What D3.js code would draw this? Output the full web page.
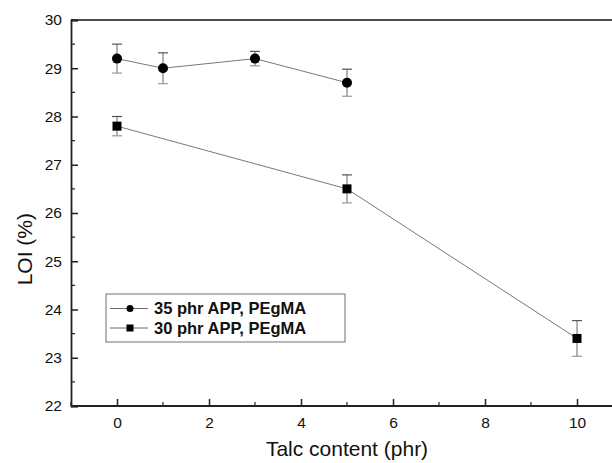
<!DOCTYPE html>
<html>
<head>
<meta charset="utf-8">
<script src="https://cdn.jsdelivr.net/npm/d3@7"></script>
<style>
  body { margin: 0; background: #fff; }
  svg { display: block; font-family: "Liberation Sans", Arial, sans-serif; }
</style>
</head>
<body>
<div id="container"></div>
<script>
/* DATA */
const talc35 = [0, 1, 3, 5];
const loi35 = [29.2, 29.0, 29.2, 28.7];
const err35 = [0.3, 0.32, 0.15, 0.28];

const talc30 = [0, 5, 10];
const loi30 = [27.8, 26.5, 23.4];
const err30 = [0.2, 0.29, 0.37];

const xTicks = [0, 2, 4, 6, 8, 10];
const yTicks = [22, 23, 24, 25, 26, 27, 28, 29, 30];
const legendLabels = ["35 phr APP, PEgMA", "30 phr APP, PEgMA"];

/* CONSTANTS */
const width = 612, height = 463;
const margin = { top: 20, bottom: 57, left: 71, right: -11 };

const xScale = d3.scaleLinear()
  .domain([-1, 11])
  .range([margin.left, width - margin.right]);

const yScale = d3.scaleLinear()
  .domain([22, 30])
  .range([height - margin.bottom, margin.top]);

const svg = d3.select("#container").append("svg")
  .attr("width", width)
  .attr("height", height);

/* FRAME (top edge; right edge falls outside the picture) */
svg.append("line")
  .attr("x1", margin.left).attr("x2", width)
  .attr("y1", margin.top).attr("y2", margin.top)
  .attr("stroke", "#4a4a4a").attr("stroke-width", 2);

/* AXES (ticks point inward) */
const xAxis = d3.axisBottom(xScale)
  .tickValues(xTicks)
  .tickSize(-7)
  .tickPadding(11)
  .tickFormat(d3.format("d"));
const gx = svg.append("g")
  .attr("transform", `translate(0,${yScale(22)})`)
  .call(xAxis);
gx.select(".domain").attr("d", `M${margin.left},0H${width}`);

const xMinor = d3.range(-1, 12, 1).filter(d => d % 2 !== 0);
gx.selectAll(".minor")
  .data(xMinor)
  .enter().append("line")
    .attr("x1", d => xScale(d)).attr("x2", d => xScale(d))
    .attr("y1", 0).attr("y2", -4)
    .attr("stroke", "#222").attr("stroke-width", 1.2);

const yAxis = d3.axisLeft(yScale)
  .tickValues(yTicks)
  .tickSize(-7)
  .tickPadding(9)
  .tickFormat(d3.format("d"));
const gy = svg.append("g")
  .attr("transform", `translate(${margin.left},0)`)
  .call(yAxis);

const yMinor = d3.range(22.5, 30, 1);
gy.selectAll(".minor")
  .data(yMinor)
  .enter().append("line")
    .attr("x1", 0).attr("x2", 4)
    .attr("y1", d => yScale(d)).attr("y2", d => yScale(d))
    .attr("stroke", "#222").attr("stroke-width", 1.2);

[gx, gy].forEach(g => {
  g.select(".domain").attr("stroke", "#222").attr("stroke-width", 1.8);
  g.selectAll(".tick line").attr("stroke", "#222").attr("stroke-width", 1.5);
  g.selectAll(".tick text")
    .attr("fill", "#111")
    .style("font-size", "15.5px")
    .style("font-family", "'Liberation Sans', Arial, sans-serif");
});

/* AXIS LABELS */
svg.append("text")
  .attr("x", 347)
  .attr("y", 456)
  .attr("text-anchor", "middle")
  .style("font-size", "21px")
  .attr("fill", "#111")
  .text("Talc content (phr)");

svg.append("text")
  .attr("transform", `translate(32,${(yScale(24.5) + yScale(26)) / 2}) rotate(-90)`)
  .attr("text-anchor", "middle")
  .style("font-size", "21px")
  .attr("fill", "#111")
  .text("LOI (%)");

/* SERIES */
const series = [
  { x: talc35, y: loi35, e: err35, shape: "circle" },
  { x: talc30, y: loi30, e: err30, shape: "square" }
];

const line = d3.line()
  .x(d => xScale(d[0]))
  .y(d => yScale(d[1]));

series.forEach(s => {
  const pts = s.x.map((x, i) => [x, s.y[i], s.e[i]]);

  svg.append("path")
    .datum(pts)
    .attr("d", line)
    .attr("fill", "none")
    .attr("stroke", "#555")
    .attr("stroke-width", 0.8);

  // error bars
  const eb = svg.append("g").selectAll("g")
    .data(pts)
    .enter().append("g");
  eb.append("line")
    .attr("x1", d => xScale(d[0])).attr("x2", d => xScale(d[0]))
    .attr("y1", d => yScale(d[1] + d[2])).attr("y2", d => yScale(d[1] - d[2]))
    .attr("stroke", "#666").attr("stroke-width", 1);
  eb.append("line")
    .attr("x1", d => xScale(d[0]) - 5).attr("x2", d => xScale(d[0]) + 5)
    .attr("y1", d => yScale(d[1] + d[2])).attr("y2", d => yScale(d[1] + d[2]))
    .attr("stroke", "#555").attr("stroke-width", 1.2);
  eb.append("line")
    .attr("x1", d => xScale(d[0]) - 5).attr("x2", d => xScale(d[0]) + 5)
    .attr("y1", d => yScale(d[1] - d[2])).attr("y2", d => yScale(d[1] - d[2]))
    .attr("stroke", "#999").attr("stroke-width", 1.2);

  // markers
  if (s.shape === "circle") {
    svg.append("g").selectAll("circle")
      .data(pts)
      .enter().append("circle")
        .attr("cx", d => xScale(d[0]))
        .attr("cy", d => yScale(d[1]))
        .attr("r", 5)
        .attr("fill", "#000");
  } else {
    svg.append("g").selectAll("rect")
      .data(pts)
      .enter().append("rect")
        .attr("x", d => xScale(d[0]) - 4.5)
        .attr("y", d => yScale(d[1]) - 4.5)
        .attr("width", 9).attr("height", 9)
        .attr("fill", "#000");
  }
});

/* LEGEND */
const legend = svg.append("g").attr("transform", "translate(106,294)");
legend.append("rect")
  .attr("width", 239).attr("height", 48)
  .attr("fill", "#fff")
  .attr("stroke", "#888").attr("stroke-width", 1.2);

legendLabels.forEach((label, i) => {
  const cy = 14.5 + i * 19.5;
  const row = legend.append("g").attr("transform", `translate(0,${cy})`);
  row.append("line")
    .attr("x1", 4).attr("x2", 42)
    .attr("stroke", "#444").attr("stroke-width", 0.8);
  if (i === 0) {
    row.append("circle").attr("cx", 24).attr("r", 3.5).attr("fill", "#000");
  } else {
    row.append("rect").attr("x", 20.5).attr("y", -3.5).attr("width", 7).attr("height", 7).attr("fill", "#000");
  }
  row.append("text")
    .attr("x", 48).attr("dy", "0.35em")
    .style("font-size", "16.5px")
    .style("font-weight", "bold")
    .attr("fill", "#111")
    .text(label);
});
</script>
</body>
</html>
